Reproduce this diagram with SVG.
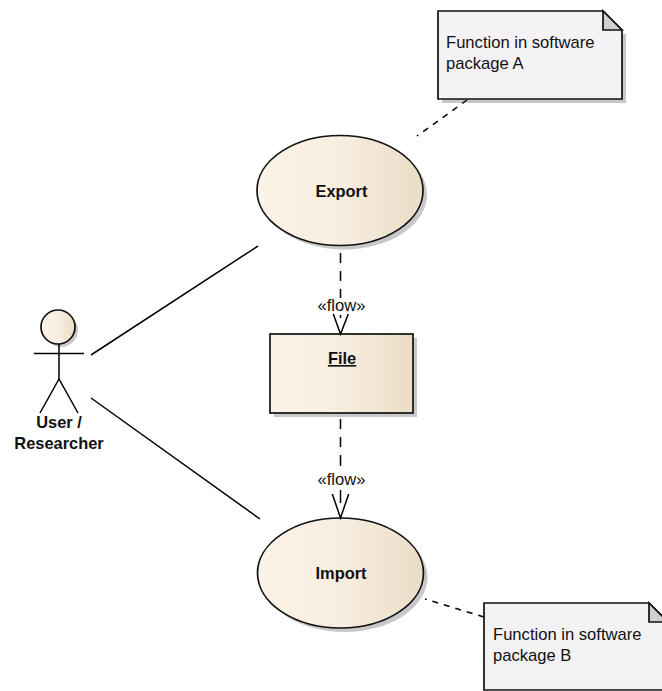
<svg xmlns="http://www.w3.org/2000/svg" width="662" height="691" viewBox="0 0 662 691">
<style>
.ln{fill:none;stroke:#000;stroke-width:1.5}
.dot{fill:none;stroke:#000;stroke-width:1.5;stroke-dasharray:6 6}
.shape{stroke:#111;stroke-width:1.7;fill:url(#g)}
.shadow{fill:#c8c8c8;stroke:none}
.note{fill:#f5f2f6;stroke:#111;stroke-width:1.7}
.fold{fill:#d2cfd3;stroke:#111;stroke-width:1.7;stroke-linejoin:miter}
text{font-family:"Liberation Sans",Arial,sans-serif;fill:#111}
.b{font-size:16.400px;font-weight:bold;text-anchor:middle}
.n{font-size:16.600px}
.f{font-size:16.600px;text-anchor:middle}
</style>
<defs>
<linearGradient id="g" x1="0" y1="0" x2="1" y2="0">
<stop offset="0" stop-color="#fbf3e7"/>
<stop offset="0.5" stop-color="#f8eee0"/>
<stop offset="1" stop-color="#eadcc6"/>
</linearGradient>
</defs>
<g id="note-a">
<path class="shadow" d="M442 103V99H622V34H626V103Z"/>
<path class="note" d="M438 11H603L622 30V99H438Z"/>
<path class="fold" d="M603 11V30H622Z"/>
<text class="n" x="446" y="48">Function in software</text>
<text class="n" x="446" y="69">package A</text>
</g>
<g id="export">
<ellipse class="shadow" cx="344" cy="194.500" rx="83" ry="55"/>
<ellipse class="shape" cx="340" cy="190.500" rx="83" ry="55"/>
<text class="b" x="341.500" y="197">Export</text>
</g>
<g id="file">
<rect class="shadow" x="274" y="338" width="143" height="79"/>
<rect class="shape" x="270" y="334" width="143" height="79"/>
<text class="b" x="342" y="364" text-decoration="underline">File</text>
</g>
<g id="import">
<ellipse class="shadow" cx="344.500" cy="577" rx="83" ry="55"/>
<ellipse class="shape" cx="340.500" cy="573" rx="83" ry="55"/>
<text class="b" x="341" y="579">Import</text>
</g>
<g id="note-b">
<path class="note" d="M484 603H649L668 622V690H484Z"/>
<path class="fold" d="M649 603V622H668Z"/>
<text class="n" x="493" y="640">Function in software</text>
<text class="n" x="493" y="661">package B</text>
</g>
<g id="actor">
<circle class="shadow" cx="61" cy="330" r="17"/>
<circle class="shape" cx="58" cy="327" r="17"/>
<path class="ln" d="M34 353.500H84M59 344V379M40 413L59 379L78 413"/>
<text class="b" x="59" y="428">User /</text>
<text class="b" x="59" y="449">Researcher</text>
</g>
<g id="connectors">
<path class="ln" d="M91 355L258 246"/>
<path class="ln" d="M91 398L260 519"/>
<path class="dot" d="M467 100L417 136"/>
<path class="dot" d="M484 617L425 599"/>
<path class="ln" d="M340.500 253V263M340.500 271V281M340.500 289V298M340.500 315V318"/>
<path class="ln" d="M333.300 314L340.500 334L348.300 314"/>
<path class="ln" d="M340.500 419V429M340.500 437V447M340.500 455V466M340.500 490V503"/>
<path class="ln" d="M332.300 494L340.500 518L348.700 494"/>
<text class="f" x="341.500" y="311">«flow»</text>
<text class="f" x="341.500" y="485">«flow»</text>
</g>
</svg>
